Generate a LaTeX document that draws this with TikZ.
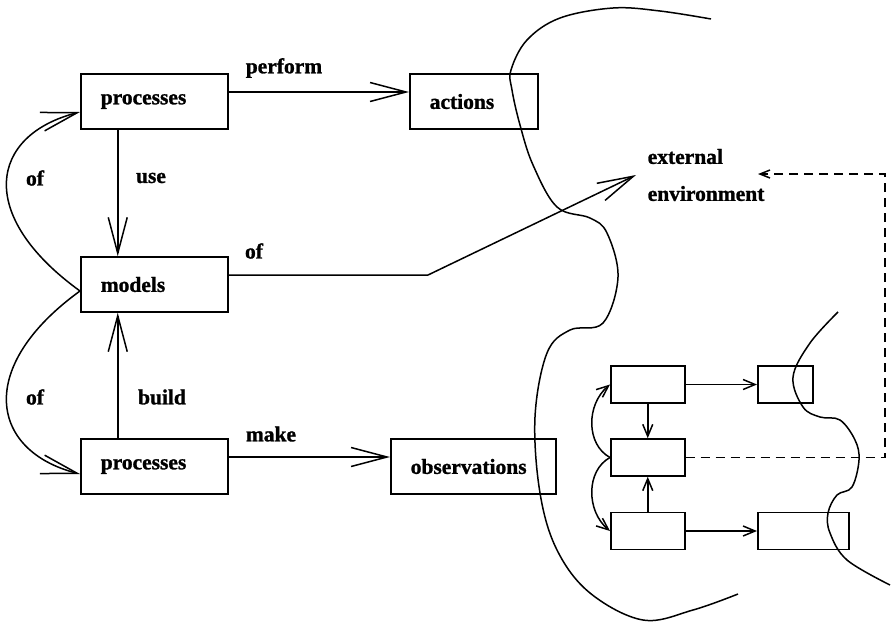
\documentclass[tikz,border=0pt]{standalone}
\usepackage{fontspec}
\setmainfont{Liberation Serif}[BoldFont={Liberation Serif Bold},BoldFeatures={FakeBold=1.2}]
\usetikzlibrary{arrows.meta}

\begin{document}
\begin{tikzpicture}[x=1pt,y=-1pt,line width=1.5pt,
  font=\fontsize{21.5}{37}\selectfont\bfseries,
  >={Straight Barb[length=36pt,width=19pt]},
  box/.style={draw,minimum height=55pt,inner xsep=20pt,inner ysep=0pt,align=left,anchor=west},
  sbox/.style={draw,minimum height=37pt,inner sep=0pt,anchor=west},
  lbl/.style={inner sep=0pt},
  sarrow/.style={-{Straight Barb[length=12pt,width=10pt]}},
  darrow/.style={dash pattern=on 9pt off 6pt,-{Straight Barb[length=10pt,width=8pt]}}]
  \useasboundingbox (0,0) rectangle (891,622);

  % big boxes
  \node[box,text width=107pt] (proc1)  at (80,101.5) {processes};
  \node[box,text width=107pt] (models) at (80,284.5) {models};
  \node[box,text width=107pt] (proc2)  at (80,466.5) {processes};
  \node[box,text width=88pt]  (act)    at (409,101.5) {actions};
  \node[box,text width=125pt] (obs)    at (390,466.5) {observations};
  \node[anchor=west,align=left,inner xsep=11pt,inner ysep=0pt] (env) at (636,175) {external\\environment};

  \draw[->] ([yshift=9.5pt]proc1.east) -- ([yshift=9.5pt]act.west);
  \draw[->] ([xshift=-36.5pt]proc1.south) -- ([xshift=-36.5pt]models.north);
  \draw[->] ([xshift=-36.5pt]proc2.north) -- ([xshift=-36.5pt]models.south);
  \draw[->] ([yshift=9.5pt]proc2.east) -- ([yshift=9.5pt]obs.west);
  \coordinate (bend) at (428,275);
  \draw[->] ([yshift=9.5pt]models.east) -- (bend) -- (env.west);
  \draw[->] ([yshift=-6.5pt]models.west) .. controls +(-105,-76) and +(-90,23) .. ([yshift=-10.5pt]proc1.west);
  \draw[->] ([yshift=-6.5pt]models.west) .. controls +(-105,76) and +(-90,-23) .. ([yshift=-7.5pt]proc2.west);

  \node[lbl] (lperform) at (284,68)  {perform};
  \node[lbl] (luse)     at (151,178) {use};
  \node[lbl] (lbuild)   at (162,397) {build};
  \node[lbl] (lmake)    at (271,434) {make};
  \node[lbl] (lofenv)   at (254,251) {of};
  \node[lbl] (lofup)    at (35,178)  {of};
  \node[lbl] (lofdown)  at (35,397)  {of};

  % small boxes
  \node[sbox,minimum width=74pt] (b1) at (610,384.5) {};
  \node[sbox,minimum width=74pt] (b2) at (610,457.5) {};
  \node[sbox,minimum width=74pt] (b3) at (610,531) {};
  \node[sbox,minimum width=55pt] (b4) at (757,384.5) {};
  \node[sbox,minimum width=91pt] (b5) at (757,531) {};

  \draw[sarrow] (b1.east) -- (b4.west);
  \draw[sarrow] (b3.east) -- (b5.west);
  \draw[sarrow] (b1.south) -- (b2.north);
  \draw[sarrow] (b3.north) -- (b2.south);
  \draw[sarrow] (b2.west) .. controls +(-24,-13) and +(-24,20) .. (b1.west);
  \draw[sarrow] (b2.west) .. controls +(-24,13) and +(-24,-20) .. (b3.west);

  \coordinate (dc1) at (885,457.5);
  \coordinate (dc2) at (885,174);
  \coordinate (envin) at (758,174);
  \draw[darrow] (b2.east) -- (dc1) -- (dc2) -- (envin);

  % boundaries
  \draw plot[smooth,tension=0.6] coordinates {(711,19) (660,11) (613,8) (560,18) (527,40) (511,70)
    (512,90) (520,125) (533,165) (557,207) (590,218) (607,233) (618,277) (603,323) (570,330)
    (547,353) (535,417) (540,493) (557,550) (590,593) (643,620) (693,610) (738,594)};
  \draw plot[smooth,tension=0.6] coordinates {(838,312) (810,343) (793,377) (803,407) (820,417)
    (840,420) (855,440) (859,460) (852,487) (837,495) (828,513) (830,533) (847,560) (890,585)};
\end{tikzpicture}
\end{document}
